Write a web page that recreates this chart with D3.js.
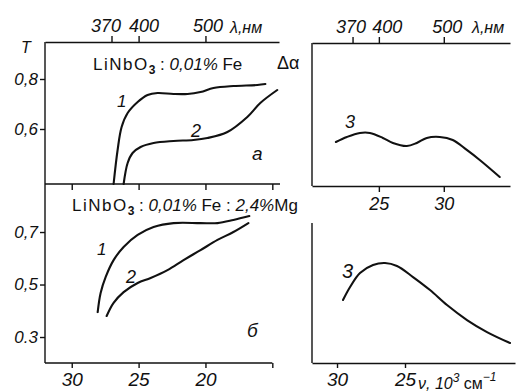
<!DOCTYPE html>
<html><head><meta charset="utf-8">
<script src="https://cdn.jsdelivr.net/npm/d3@7/dist/d3.min.js"></script>
<style>
html,body{margin:0;padding:0;background:#fff;}
svg{display:block;}
text{font-family:"Liberation Sans",Arial,sans-serif;fill:#111;}
.num{font-style:italic;}
</style></head><body>
<svg id="c" width="519" height="392"></svg>
<script>
// ---------- data (wavenumber in 10^3 cm^-1) ----------
const nuA1 = [26.87,26.57,26.27,25.82,25.07,24.33,23.58,22.39,21.34,20.37,19.40,17.91,16.12,15.52];
const tA1  = [0.380,0.516,0.608,0.664,0.708,0.736,0.744,0.740,0.740,0.748,0.764,0.772,0.776,0.780];
const nuA2 = [26.12,25.82,25.45,24.85,23.88,22.39,20.90,19.85,18.36,16.87,15.90,14.63];
const tA2  = [0.380,0.464,0.504,0.528,0.544,0.552,0.556,0.564,0.588,0.648,0.704,0.756];
const nuB1 = [28.06,27.84,27.46,26.87,26.12,25.07,23.88,22.39,20.37,19.10,17.91,16.72];
const tB1  = [0.395,0.468,0.529,0.593,0.643,0.689,0.719,0.734,0.734,0.734,0.746,0.761];
const nuB2 = [27.39,26.87,26.12,25.07,24.10,22.84,21.64,20.37,19.10,17.91,16.79];
const tB2  = [0.380,0.430,0.471,0.506,0.525,0.555,0.593,0.631,0.670,0.700,0.734];
const nuC3 = [28.31,27.46,26.46,25.69,24.69,23.92,22.85,22.08,21.31,20.31,19.31,18.23,17.23,15.69];
const daC3 = [0.308,0.343,0.371,0.371,0.336,0.301,0.280,0.301,0.336,0.343,0.322,0.252,0.182,0.063];
const nuD3 = [29.56,29.04,28.31,27.35,26.47,25.59,24.41,23.16,21.91,20.44,18.97,17.28];
const daD3 = [0.450,0.543,0.643,0.700,0.714,0.693,0.614,0.521,0.414,0.307,0.221,0.143];

const lambdaTicks = [370, 400, 500];
const nuTicksLeft = [30, 25, 20, 15];
const nuLabelsLeft = ["30", "25", "20", ""];
const tTicksA = [0.8, 0.6];
const tLabelsA = ["0,8", "0,6"];
const tTicksB = [0.7, 0.5, 0.3];
const tLabelsB = ["0,7", "0,5", "0.3"];
const nuTicksC = [25, 20];
const nuLabelsC = ["25", "30"];
const nuTicksD = [30, 25];
const nuLabelsD = ["30", "25"];

// ---------- scales ----------
const xL  = d3.scaleLinear().domain([32, 14.5]).range([45, 279]);
const yA  = d3.scaleLinear().domain([0.38, 0.948]).range([184, 42]);
const yB  = d3.scaleLinear().domain([0.201, 0.883]).range([363, 184]);
const xC  = d3.scaleLinear().domain([30.15, 14.9]).range([312, 510]);
const yC  = d3.scaleLinear().domain([0, 1]).range([186, 43]);
const xD  = d3.scaleLinear().domain([31.84, 16.91]).range([312, 515]);
const yD  = d3.scaleLinear().domain([0, 1]).range([363, 223]);
const lam2nu = l => 10000 / l;

const svg = d3.select("#c");
const AX = 1.4, CW = 2.1;

function axisLine(x1,y1,x2,y2){
  svg.append("line").attr("x1",x1).attr("y1",y1).attr("x2",x2).attr("y2",y2)
    .attr("stroke","#111").attr("stroke-width",AX);
}
function drawAxis(axis, tx, ty){
  const g = svg.append("g").attr("transform",`translate(${tx},${ty})`).call(axis);
  g.select(".domain").attr("stroke","#111").attr("stroke-width",AX);
  g.selectAll(".tick line").attr("stroke","#111").attr("stroke-width",AX);
  g.selectAll("text").attr("class","num").attr("fill","#111").style("font-family","Liberation Sans, Arial, sans-serif");
  return g;
}
function curve(xs, ys, sx, sy){
  const pts = xs.map((v,i)=>[sx(v), sy(ys[i])]);
  svg.append("path").attr("d", d3.line().curve(d3.curveCatmullRom.alpha(0.5))(pts))
    .attr("fill","none").attr("stroke","#111").attr("stroke-width",CW)
    .attr("stroke-linecap","round").attr("stroke-linejoin","round");
}
function label(x,y,t,size,italic,anchor){
  return svg.append("text").attr("x",x).attr("y",y).text(t)
    .attr("font-size",size).attr("font-style",italic?"italic":"normal")
    .attr("text-anchor",anchor||"start");
}

// ---------- left panels ----------
drawAxis(d3.axisTop(xL).tickValues(lambdaTicks.map(lam2nu)).tickFormat((d,i)=>lambdaTicks[i])
  .tickSize(6).tickSizeOuter(0).tickPadding(4), 0, 42)
  .call(g=>g.selectAll("text").attr("font-size",18)
    .attr("dx",(d,i)=>[-6,5,2][i]));
label(230, 33, "λ,нм", 16, true);
axisLine(45, 42, 45, 184);
drawAxis(d3.axisLeft(yA).tickValues(tTicksA).tickFormat((d,i)=>tLabelsA[i])
  .tickSize(5).tickSizeOuter(0).tickPadding(2), 45, 0)
  .call(g=>{g.select(".domain").remove(); g.selectAll("text").attr("font-size",17);});
label(21, 53, "T", 16, true);
axisLine(45, 184, 280, 184);
drawAxis(d3.axisBottom(xL).tickValues(nuTicksLeft).tickFormat("")
  .tickSize(6).tickSizeOuter(0), 0, 184).call(g=>g.select(".domain").remove());
axisLine(45, 184, 45, 363);
drawAxis(d3.axisLeft(yB).tickValues(tTicksB).tickFormat((d,i)=>tLabelsB[i])
  .tickSize(5).tickSizeOuter(0).tickPadding(2), 45, 0)
  .call(g=>{g.select(".domain").remove(); g.selectAll("text").attr("font-size",17);});
axisLine(45, 363, xL(15), 363);
drawAxis(d3.axisBottom(xL).tickValues(nuTicksLeft).tickFormat((d,i)=>nuLabelsLeft[i])
  .tickSize(5).tickSizeOuter(0).tickPadding(5), 0, 363)
  .call(g=>{g.select(".domain").remove(); g.selectAll("text").attr("font-size",19);});

function title(x,y,extra){
  const t = svg.append("text").attr("x",x).attr("y",y).attr("font-size",17);
  t.append("tspan").text("LiNbO").attr("letter-spacing",1.5);
  t.append("tspan").text("3").attr("font-size",12).attr("dy",4).attr("font-weight","bold");
  t.append("tspan").text(" : ").attr("dy",-4);
  t.append("tspan").text("0,01%").attr("font-style","italic");
  t.append("tspan").text(" Fe");
  if (extra){
    t.append("tspan").text(" : ");
    t.append("tspan").text("2,4%").attr("font-style","italic");
    t.append("tspan").text("Mg");
  }
}
title(93, 70, false);
title(72, 211, true);

curve(nuA1, tA1, xL, yA);
curve(nuA2, tA2, xL, yA);
curve(nuB1, tB1, xL, yB);
curve(nuB2, tB2, xL, yB);
label(117, 107, "1", 17, true);
label(191, 137, "2", 18, true);
label(97, 255, "1", 17, true);
label(126, 283, "2", 18, true);
label(252, 160, "а", 19, true);
label(247, 337, "б", 19, true);

// ---------- top-right panel ----------
drawAxis(d3.axisTop(xC).tickValues(lambdaTicks.map(lam2nu)).tickFormat((d,i)=>lambdaTicks[i])
  .tickSize(6).tickSizeOuter(0).tickPadding(4), 0, 43)
  .call(g=>g.selectAll("text").attr("font-size",18)
    .attr("dx",(d,i)=>[-2,8,3][i]));
label(472, 33, "λ,нм", 16, true);
axisLine(312, 43, 312, 186);
drawAxis(d3.axisBottom(xC).tickValues(nuTicksC).tickFormat((d,i)=>nuLabelsC[i])
  .tickSize(6).tickSizeOuter(0).tickPadding(5), 0, 186)
  .call(g=>g.selectAll("text").attr("font-size",18));
label(277, 69, "Δα", 18, false);
curve(nuC3, daC3, xC, yC);
label(345, 128, "3", 18, true);

// ---------- bottom-right panel ----------
axisLine(312, 223, 312, 363);
drawAxis(d3.axisBottom(xD).tickValues(nuTicksD).tickFormat((d,i)=>nuLabelsD[i])
  .tickSize(5).tickSizeOuter(0).tickPadding(5), 0, 363)
  .call(g=>g.selectAll("text").attr("font-size",19));
const nl = label(418, 389, "ν, 10", 16, true);
nl.append("tspan").text("3").attr("font-size",12).attr("dy",-7);
nl.append("tspan").text(" см").attr("dy",7).attr("font-style","normal");
nl.append("tspan").text("−1").attr("font-size",12).attr("dy",-8);
curve(nuD3, daD3, xD, yD);
label(342, 278, "3", 20, true);
</script>
</body></html>
